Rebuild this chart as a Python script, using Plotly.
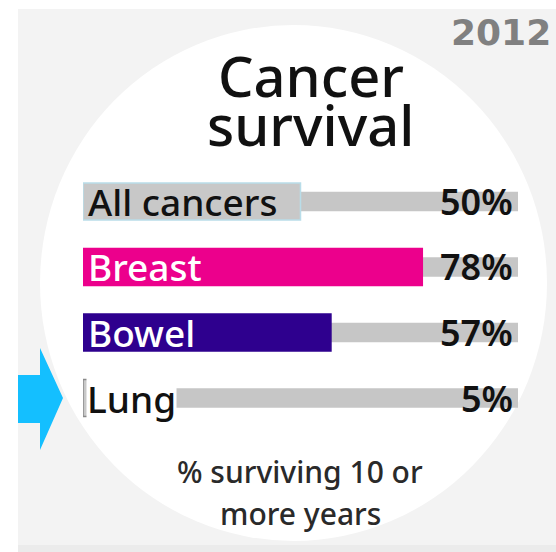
import plotly.graph_objects as go

# Ten-year cancer survival, 2012
categories = ["All cancers", "Breast", "Bowel", "Lung"]
survival_pct = [50, 78, 57, 5]
bar_colors = ["#c8c8c8", "#ec008c", "#2e008e", "#c8c8c8"]
bar_edges = ["#b9dde9", "#ec008c", "#2e008e", "#8a8a8a"]
label_colors = ["#111111", "#ffffff", "#ffffff", "#111111"]
track_max = [100, 100, 100, 100]

W, H = 556, 552
FONT = "Noto Sans"


def px(x):
    return x / W


def py(y):
    return 1 - y / H


fig = go.Figure()

# full-scale grey track behind each bar
fig.add_trace(go.Bar(
    y=categories, x=track_max, orientation="h",
    marker=dict(color="#c6c6c6", line=dict(width=0)),
    width=0.30, hoverinfo="skip", showlegend=False,
))

# survival bars
fig.add_trace(go.Bar(
    y=categories, x=survival_pct, orientation="h",
    marker=dict(color=bar_colors, line=dict(color=bar_edges, width=1.5)),
    width=0.565, showlegend=False,
))

shapes = [
    # grey panel
    dict(type="rect", xref="paper", yref="paper", layer="below",
         x0=px(18), x1=1, y0=py(545), y1=py(9),
         fillcolor="#f3f3f3", line=dict(width=0)),
    dict(type="rect", xref="paper", yref="paper", layer="below",
         x0=px(18), x1=1, y0=0, y1=py(545),
         fillcolor="#ebebeb", line=dict(width=0)),
    # white disc
    dict(type="circle", xref="paper", yref="paper", layer="below",
         x0=px(40), x1=px(547), y0=py(541), y1=py(25),
         fillcolor="#ffffff", line=dict(width=0)),
    # pointer arrow
    dict(type="path", xref="paper", yref="paper", layer="above",
         path=(f"M {px(18)},{py(375)} L {px(40)},{py(375)} L {px(40)},{py(348)} "
               f"L {px(63)},{py(398)} L {px(40)},{py(450)} L {px(40)},{py(423)} "
               f"L {px(18)},{py(423)} Z"),
         fillcolor="#14bfff", line=dict(width=0)),
]

annotations = [
    dict(text="Cancer", xref="paper", yref="paper", x=px(311), y=py(75),
         xanchor="center", yanchor="middle", showarrow=False,
         font=dict(family=FONT, size=56, weight=500, color="#111111")),
    dict(text="survival", xref="paper", yref="paper", x=px(310), y=py(124),
         xanchor="center", yanchor="middle", showarrow=False,
         font=dict(family=FONT, size=56, weight=500, color="#111111")),
    dict(text="<b>2012</b>", xref="paper", yref="paper", x=px(553), y=py(32),
         xanchor="right", yanchor="middle", showarrow=False,
         font=dict(family="DejaVu Sans", size=36, color="#808080")),
    dict(text="% surviving 10 or", xref="paper", yref="paper", x=px(300), y=py(471),
         xanchor="center", yanchor="middle", showarrow=False,
         font=dict(family=FONT, size=30, weight=500, color="#2a2a2a")),
    dict(text="more years", xref="paper", yref="paper", x=px(300), y=py(513),
         xanchor="center", yanchor="middle", showarrow=False,
         font=dict(family=FONT, size=30, weight=500, color="#2a2a2a")),
]

for cat, val, lc in zip(categories, survival_pct, label_colors):
    ann = dict(text=cat, xref="x", yref="y", x=0, y=cat,
               xanchor="left", yanchor="middle", showarrow=False, xshift=3,
               font=dict(family=FONT, size=37, weight=500, color=lc))
    if cat == "Lung":
        ann.update(bgcolor="#ffffff", borderpad=0)
    annotations.append(ann)
    annotations.append(dict(
        text=f"{val}%", xref="paper", yref="y", x=px(515), y=cat,
        xanchor="right", yanchor="middle", showarrow=False,
        font=dict(family=FONT, size=36, weight=600, color="#111111")))

fig.update_layout(
    width=W, height=H,
    margin=dict(l=0, r=0, t=0, b=0),
    paper_bgcolor="#ffffff", plot_bgcolor="rgba(0,0,0,0)",
    barmode="overlay",
    xaxis=dict(range=[0, 100], domain=[px(83), px(518)], visible=False, fixedrange=True),
    yaxis=dict(range=[5.351, -3.076], visible=False, fixedrange=True,
               categoryorder="array", categoryarray=categories),
    shapes=shapes, annotations=annotations,
)

fig.write_html("out.html")
